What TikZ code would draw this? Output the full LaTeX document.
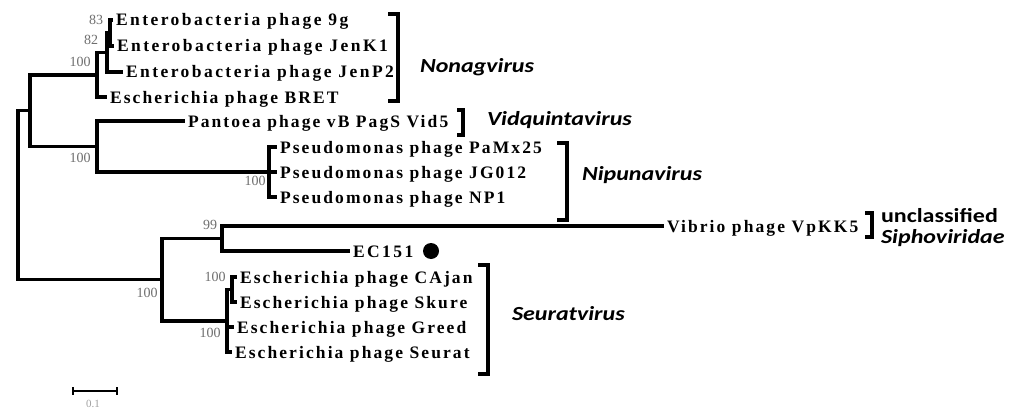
\documentclass[tikz,border=0pt]{standalone}
\usepackage{fontspec}
\setmainfont{Liberation Serif}
\newfontfamily\leaffont[LetterSpace=12]{Liberation Serif}
\newfontfamily\leafwidefont[LetterSpace=14]{Liberation Serif}
\newfontfamily\cladefont[FakeStretch=1.2]{Carlito}

\definecolor{c000000}{RGB}{0,0,0}
\definecolor{c6e6e6e}{RGB}{110,110,110}
\definecolor{ca0a0a0}{RGB}{160,160,160}

\begin{document}
\begin{tikzpicture}[y=1pt, x=1pt, yscale=-1, inner sep=0pt, outer sep=0pt,
  branch/.style={draw=c000000, line width=3.4pt, line join=miter, line cap=butt},
  bracket/.style={draw=c000000, line width=4.4pt, line join=miter, line cap=butt},
  leaf/.style={anchor=west, inner xsep=3pt, text height=12pt, text depth=0pt,
    font={\leaffont\bfseries\fontsize{17.5}{19}\selectfont}},
  wideleaf/.style={leaf, font={\leafwidefont\bfseries\fontsize{17.5}{19}\selectfont}},
  boot/.style={text=c6e6e6e, font={\fontsize{14}{14}\selectfont}},
  clade/.style={anchor=west, text height=13pt, text depth=0pt,
    font={\cladefont\bfseries\itshape\fontsize{20}{22}\selectfont}}]
\useasboundingbox (0,0) rectangle (1024,409);

  % internal nodes of the tree
  \coordinate (root) at (18,195.2);
  \coordinate (nTop) at (30,110.8);
  \coordinate (n100a) at (97,75);
  \coordinate (n82) at (107,52.5);
  \coordinate (n83) at (110,33);
  \coordinate (n100b) at (97,146.5);
  \coordinate (nNip) at (269,172);
  \coordinate (n100d) at (162,279.6);
  \coordinate (n99) at (222,238.5);
  \coordinate (nSeur) at (227,320.8);
  \coordinate (nCS) at (232,289.5);

  % leaves
  \node[wideleaf] (text9g) at (113,20) {Enterobacteria phage 9g};
  \node[wideleaf] (textJenK1) at (114,46) {Enterobacteria phage JenK1};
  \node[wideleaf] (textJenP2) at (123,72) {Enterobacteria phage JenP2};
  \node[leaf] (textBRET) at (107,97) {Escherichia phage BRET};
  \node[leaf] (textVid5) at (185,121) {Pantoea phage vB PagS Vid5};
  \node[leaf] (textPaMx25) at (277,147) {Pseudomonas phage PaMx25};
  \node[leaf] (textJG012) at (277,172) {Pseudomonas phage JG012};
  \node[leaf] (textNP1) at (277,197) {Pseudomonas phage NP1};
  \node[leaf] (textVpKK5) at (664,226) {Vibrio phage VpKK5};
  \node[wideleaf] (textEC151) at (350,251) {EC151};
  \node[leaf] (textCAjan) at (237,277) {Escherichia phage CAjan};
  \node[leaf] (textSkure) at (237,302) {Escherichia phage Skure};
  \node[leaf] (textGreed) at (234,327) {Escherichia phage Greed};
  \node[leaf] (textSeurat) at (232,352) {Escherichia phage Seurat};
  \node[circle, fill=c000000, minimum size=16pt] (dotEC151) at (431,251) {};

  % branches
  \path[branch] (root) |- (nTop);
  \path[branch] (root) |- (n100d);
  \path[branch] (nTop) |- (n100a);
  \path[branch] (nTop) |- (n100b);
  \path[branch] (n100a) |- (n82);
  \path[branch] (n100a) |- (textBRET.west);
  \path[branch] (n82) |- (n83);
  \path[branch] (n82) |- (textJenP2.west);
  \path[branch] (n83) |- (text9g.west);
  \path[branch] (n83) |- (textJenK1.west);
  \path[branch] (n100b) |- (textVid5.west);
  \path[branch] (n100b) |- (nNip);
  \path[branch] (nNip) |- (textPaMx25.west);
  \path[branch] (nNip) |- (textJG012.west);
  \path[branch] (nNip) |- (textNP1.west);
  \path[branch] (n100d) |- (n99);
  \path[branch] (n100d) |- (nSeur);
  \path[branch] (n99) |- (textVpKK5.west);
  \path[branch] (n99) |- (textEC151.west);
  \path[branch] (nSeur) |- (nCS);
  \path[branch] (nSeur) |- (textGreed.west);
  \path[branch] (nSeur) |- (textSeurat.west);
  \path[branch] (nCS) |- (textCAjan.west);
  \path[branch] (nCS) |- (textSkure.west);

  % bootstrap values
  \node[boot] (boot83) at (96,20) {83};
  \node[boot] (boot82) at (91,40) {82};
  \node[boot] (boot100a) at (80,62) {100};
  \node[boot] (boot100b) at (80,158) {100};
  \node[boot] (boot100nip) at (255,181) {100};
  \node[boot] (boot99) at (210,225) {99};
  \node[boot] (boot100d) at (147,293) {100};
  \node[boot] (boot100cs) at (215,277) {100};
  \node[boot] (boot100seur) at (210,333) {100};

  % genus brackets
  \path[bracket] (388,14) -- (398,14) -- (398,101) -- (388,101);
  \path[bracket] (457,110) -- (463,110) -- (463,135) -- (457,135);
  \path[bracket] (557,143) -- (567,143) -- (567,220) -- (557,220);
  \path[bracket] (865,213) -- (872,213) -- (872,237) -- (865,237);
  \path[bracket] (478,265) -- (488,265) -- (488,374) -- (478,374);
  \node[clade] (textNonag) at (420,66.5) {Nonagvirus};
  \node[clade] (textVidq) at (487,118.5) {Vidquintavirus};
  \node[clade] (textNipuna) at (582,173.5) {Nipunavirus};
  \node[clade, font={\cladefont\bfseries\fontsize{20}{22}\selectfont}]
    (textUncl) at (881,215.5) {unclassified};
  \node[clade] (textSipho) at (881,236.5) {Siphoviridae};
  \node[clade] (textSeurat) at (512,313.5) {Seuratvirus};

  % scale bar
  \path[draw=c000000, line width=1.8pt] (73,387) -- (73,395) (73,391) -- (117,391)
    (117,387) -- (117,395);
  \node[text=ca0a0a0, font={\fontsize{11}{11}\selectfont}] (textScale) at (93,404) {0.1};

\end{tikzpicture}
\end{document}
